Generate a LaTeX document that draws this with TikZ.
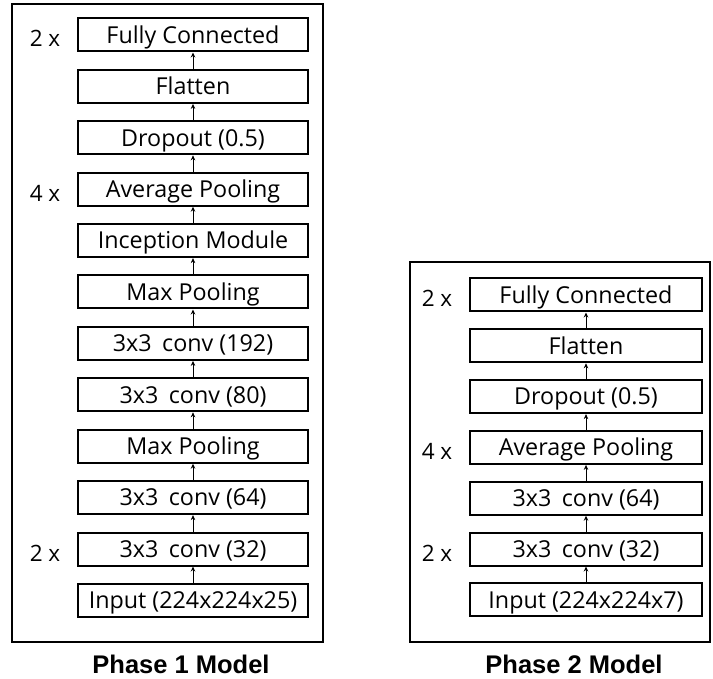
\documentclass[tikz,border=0pt]{standalone}
\usepackage{fontspec}
\setmainfont{Open Sans}
\newfontfamily\captionfont{Liberation Sans}
\usetikzlibrary{arrows.meta}
\begin{document}
\begin{tikzpicture}[x=1pt,y=-1pt,
  layer/.style={draw=black,line width=2pt,minimum width=#1,minimum height=33pt,
    inner sep=0pt,text height=16.5pt,text depth=0pt,
    font=\fontsize{23.3}{27}\selectfont,text=black},
  layer/.default=230pt,
  flow/.style={line width=1pt,-{Stealth[length=5pt,width=4.5pt]}},
  frame/.style={draw=black,line width=2pt},
  repeatlbl/.style={font=\fontsize{22.5}{26}\selectfont,text height=16pt,text depth=0pt,inner sep=0pt},
  caption/.style={font=\captionfont\bfseries\fontsize{25.5}{30}\selectfont,
    anchor=base,inner sep=0pt,text depth=0pt}]
\useasboundingbox (0,0) rectangle (713,679);

% ---- Phase 1 ----
\draw[frame] (12,4) rectangle (323,642);
\foreach \name/\txt [count=\i from 0] in {
  a0/Fully Connected, a1/Flatten, a2/Dropout (0.5), a3/Average Pooling,
  a4/Inception Module, a5/Max Pooling, a6/3x3\hspace{0.45em}conv (192),
  a7/3x3\hspace{0.45em}conv (80), a8/Max Pooling, a9/3x3\hspace{0.45em}conv (64),
  a10/3x3\hspace{0.45em}conv (32), a11/Input (224x224x25)}
  \node[layer] (\name) at (193,{35+51.4*\i}) {\txt};
\foreach \lo/\hi in {a11/a10,a10/a9,a9/a8,a8/a7,a7/a6,a6/a5,a5/a4,a4/a3,a3/a2,a2/a1,a1/a0}
  \draw[flow] (\lo.north) -- (\hi.south);
\node[repeatlbl] (r1) at (45,{39+51.4*0}) {2 x};
\node[repeatlbl] (r2) at (45,{39+51.4*3}) {4 x};
\node[repeatlbl] (r3) at (45,{39+51.4*10}) {2 x};
\node[caption] (c1) at (181,673.5) {Phase 1 Model};

% ---- Phase 2 ----
\draw[frame] (410,262) rectangle (710,642);
\foreach \name/\txt [count=\i from 0] in {
  b0/Fully Connected, b1/Flatten, b2/Dropout (0.5), b3/Average Pooling,
  b4/3x3\hspace{0.45em}conv (64), b5/3x3\hspace{0.45em}conv (32), b6/Input (224x224x7)}
  \node[layer=232pt] (\name) at (586,{295+50.8*\i}) {\txt};
\foreach \lo/\hi in {b6/b5,b5/b4,b4/b3,b3/b2,b2/b1,b1/b0}
  \draw[flow] (\lo.north) -- (\hi.south);
\node[repeatlbl] (s1) at (437,{299+50.8*0}) {2 x};
\node[repeatlbl] (s2) at (437,{299+50.8*3}) {4 x};
\node[repeatlbl] (s3) at (437,{299+50.8*5}) {2 x};
\node[caption] (c2) at (574,673.5) {Phase 2 Model};
\end{tikzpicture}
\end{document}
